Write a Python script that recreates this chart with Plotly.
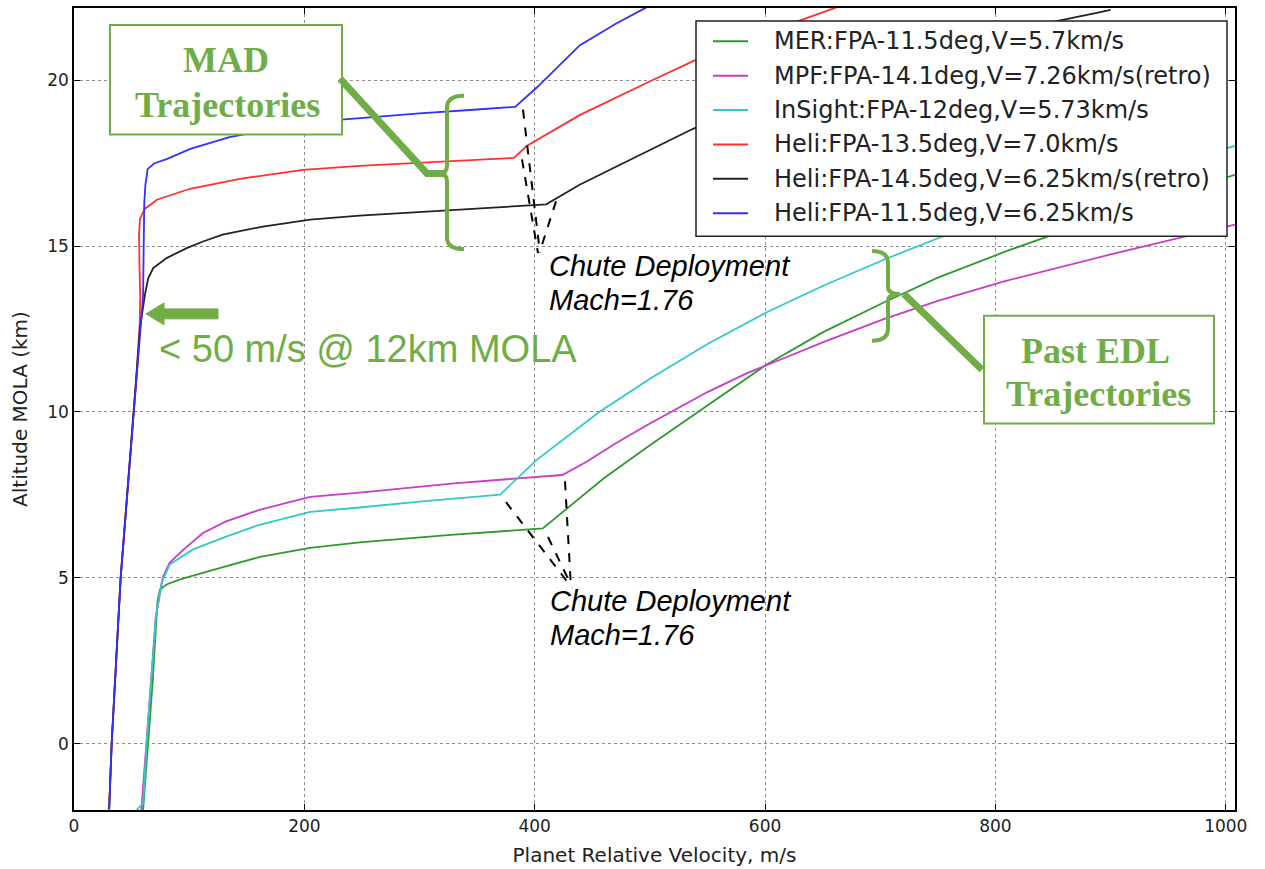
import plotly.graph_objects as go

# ---------------- data ----------------
mer_v = [60, 64.5, 68.3, 71.7, 72.5, 74.6, 80.4, 92, 103.5, 132.5, 161.4, 205, 248, 330, 407,
         430, 460, 500, 550, 600, 650, 703, 750, 809, 850, 900, 950, 1008]
mer_h = [-2, 0, 1.86, 3.85, 4.3, 4.65, 4.8, 4.95, 5.07, 5.35, 5.63, 5.9, 6.07, 6.3, 6.49,
         7.15, 8.0, 9.0, 10.2, 11.4, 12.4, 13.3, 14.05, 14.84, 15.35, 15.95, 16.55, 17.15]

mpf_v = [58.5, 63, 67, 71, 76, 77.5, 83, 95, 112, 132, 161, 205, 248, 330, 424,
         445, 470, 500, 550, 583, 650, 703, 750, 809, 900, 960, 1008]
mpf_h = [-2, 0, 1.85, 3.8, 4.8, 5.05, 5.45, 5.85, 6.35, 6.7, 7.05, 7.44, 7.57, 7.85, 8.1,
         8.5, 9.05, 9.65, 10.6, 11.15, 12.1, 12.8, 13.35, 13.95, 14.75, 15.25, 15.65]

ins_v = [54.4, 60.1, 63, 67, 71, 76, 83, 103, 132, 161, 205, 248, 300, 370,
         401.5, 456, 500, 550, 601, 650, 703, 754, 800, 850, 900, 950, 1008]
ins_h = [-2, -1.8, 0, 1.85, 3.8, 4.85, 5.4, 5.85, 6.24, 6.6, 6.99, 7.12, 7.3, 7.51,
         8.55, 10.0, 11.0, 12.05, 13.0, 13.8, 14.59, 15.29, 15.85, 16.45, 17.0, 17.5, 18.02]

h135_v = [30.5, 32.7, 40.5, 49.5, 54, 57, 57.5, 56.8, 56.5, 57.3, 61.6, 72, 100.7, 144, 198.7,
          248, 320, 382, 393, 439, 502, 539, 600, 630, 662]
h135_h = [-2, 0, 5, 8.85, 11.0, 12.6, 13.5, 14.5, 15.35, 15.83, 16.13, 16.4, 16.73, 17.03, 17.3,
          17.42, 17.55, 17.66, 18.02, 18.95, 20.0, 20.6, 21.4, 21.8, 22.2]

h145_v = [30.5, 32.7, 40.5, 49.5, 54, 57.3, 60.0, 61.6, 64.5, 68.8, 80.4, 97.8, 112, 129, 164, 205, 248,
          330, 410, 439, 497, 537, 600, 700, 800, 851, 889, 900]
h145_h = [-2, 0, 5, 8.85, 11.0, 12.54, 13.2, 13.54, 14.04, 14.34, 14.64, 14.94, 15.14, 15.35, 15.59, 15.8, 15.92,
          16.1, 16.26, 16.85, 17.84, 18.53, 19.45, 20.55, 21.35, 21.77, 22.04, 22.12]

h115_v = [30.5, 32.7, 40.5, 49.5, 54, 58, 60.0, 60.5, 61.0, 62.0, 64, 70, 81, 101, 135, 205,
          248, 300, 350, 383, 402, 439, 470, 497]
h115_h = [-2, 0, 5, 8.85, 11.0, 12.6, 13.5, 15.0, 16.3, 16.85, 17.33, 17.5, 17.63, 17.93, 18.29, 18.74,
          18.86, 19.0, 19.12, 19.2, 19.79, 21.05, 21.7, 22.2]

names = ["MER:FPA-11.5deg,V=5.7km/s",
         "MPF:FPA-14.1deg,V=7.26km/s(retro)",
         "InSight:FPA-12deg,V=5.73km/s",
         "Heli:FPA-13.5deg,V=7.0km/s",
         "Heli:FPA-14.5deg,V=6.25km/s(retro)",
         "Heli:FPA-11.5deg,V=6.25km/s"]
colors = ["#2e9a2e", "#c83cc8", "#33c8c8", "#ff3030", "#222222", "#3030ff"]
series = [(mer_v, mer_h), (mpf_v, mpf_h), (ins_v, ins_h),
          (h135_v, h135_h), (h145_v, h145_h), (h115_v, h115_h)]

x_ticks = [0, 200, 400, 600, 800, 1000]
y_ticks = [0, 5, 10, 15, 20]
X_RANGE = [0, 1008]
Y_RANGE = [-2, 22.18]

# ---------------- layout geometry ----------------
W, H = 1265, 869
ML, MR, MT, MB = 74, 30, 6, 58
PW, PH = W - ML - MR, H - MT - MB


def P(px, py):
    """page pixel position -> data coordinates (used for annotation placement only)"""
    x = X_RANGE[0] + (px - ML) / PW * (X_RANGE[1] - X_RANGE[0])
    y = Y_RANGE[1] - (py - MT) / PH * (Y_RANGE[1] - Y_RANGE[0])
    return x, y


def path(segments, close=False):
    s = ""
    for cmd, pts in segments:
        s += cmd + " ".join("%.4f,%.4f" % P(*p) for p in pts) + " "
    if close:
        s += "Z"
    return s


fig = go.Figure()
for (v, h), n, c in zip(series, names, colors):
    fig.add_trace(go.Scatter(x=v, y=h, mode="lines", name=n,
                             line=dict(color=c, width=1.8), showlegend=False))

GREEN = "#70AD47"
shapes = []
annots = []


def text(px, py, s, size, family, color, xanchor="left", yanchor="middle"):
    x, y = P(px, py)
    annots.append(dict(x=x, y=y, xref="x", yref="y", text=s, showarrow=False,
                       font=dict(family=family, size=size, color=color),
                       xanchor=xanchor, yanchor=yanchor))


# ---- legend (drawn by hand to match the reference spacing) ----
x0, y0 = P(696, 19)
x1, y1 = P(1227, 235)
shapes.append(dict(type="rect", x0=x0, y0=y0, x1=x1, y1=y1, xref="x", yref="y",
                   line=dict(color="#222", width=1.5), fillcolor="white"))
row_y = [39.5, 74, 108.5, 143, 177.5, 212]
for ry, n, c in zip(row_y, names, colors):
    shapes.append(dict(type="path", xref="x", yref="y",
                       path=path([("M", [(713, ry)]), ("L", [(748, ry)])]),
                       line=dict(color=c, width=2)))
    text(772, ry, n, 24, "DejaVu Sans", "#222")

# ---- MAD box ----
x0, y0 = P(110, 23)
x1, y1 = P(342, 133)
shapes.append(dict(type="rect", x0=x0, y0=y0, x1=x1, y1=y1, xref="x", yref="y",
                   line=dict(color=GREEN, width=2), fillcolor="white"))
text(226, 58, "<b>MAD</b>", 36, "Liberation Serif", GREEN, xanchor="center")
text(227, 103, "<b>Trajectories</b>", 36, "Liberation Serif", GREEN, xanchor="center")
# pointer + brace (upper)
shapes.append(dict(type="path", xref="x", yref="y",
                   path=path([("M", [(340, 77)]), ("L", [(427, 172)]), ("L", [(444, 172)])]),
                   line=dict(color=GREEN, width=7)))
shapes.append(dict(type="path", xref="x", yref="y",
                   path=path([("M", [(464, 94)]), ("Q", [(447, 94), (447, 106)]),
                              ("L", [(447, 164)]), ("Q", [(447, 172), (439, 172)]),
                              ("Q", [(447, 172), (447, 180)]), ("L", [(447, 236)]),
                              ("Q", [(447, 248), (464, 248)])]),
                   line=dict(color=GREEN, width=4)))

# ---- Past EDL box ----
x0, y0 = P(984, 315)
x1, y1 = P(1214, 423)
shapes.append(dict(type="rect", x0=x0, y0=y0, x1=x1, y1=y1, xref="x", yref="y",
                   line=dict(color=GREEN, width=2), fillcolor="white"))
text(1095, 350, "<b>Past EDL</b>", 36, "Liberation Serif", GREEN, xanchor="center")
text(1098, 393, "<b>Trajectories</b>", 36, "Liberation Serif", GREEN, xanchor="center")
shapes.append(dict(type="path", xref="x", yref="y",
                   path=path([("M", [(982, 369)]), ("L", [(904, 293)])]),
                   line=dict(color=GREEN, width=7)))
shapes.append(dict(type="path", xref="x", yref="y",
                   path=path([("M", [(872, 250)]), ("Q", [(888, 250), (888, 262)]),
                              ("L", [(888, 286)]), ("Q", [(888, 293), (900, 293)]),
                              ("Q", [(888, 293), (888, 300)]), ("L", [(888, 328)]),
                              ("Q", [(888, 340), (872, 340)])]),
                   line=dict(color=GREEN, width=4)))

# ---- "< 50 m/s" arrow ----
arrow_pts = [(164, 302), (164, 308), (218, 308), (218, 318), (164, 318), (164, 324)]
shapes.append(dict(type="path", xref="x", yref="y",
                   path=path([("M", [(146, 313)])] + [("L", [p]) for p in arrow_pts], close=True),
                   line=dict(color=GREEN, width=1), fillcolor=GREEN))
text(157, 348, "< 50 m/s @ 12km MOLA", 38, "Liberation Sans", GREEN)

# ---- Chute deployment labels ----
for (lx, ly) in [(547, 265), (548, 601)]:
    text(lx, ly, "<i>Chute Deployment</i>", 29, "Liberation Sans", "black")
    text(lx, ly + 34, "<i>Mach=1.76</i>", 29, "Liberation Sans", "black")

dash_lines = [((523, 108), (540, 252)), ((522, 158), (538, 252)), ((556, 200), (540, 250)),
              ((506, 502), (572, 588)), ((548, 537), (570, 583)), ((565, 481), (571, 588))]
for a, b in dash_lines:
    shapes.append(dict(type="path", xref="x", yref="y", path=path([("M", [a]), ("L", [b])]),
                       line=dict(color="black", width=2, dash="dash")))

axis_common = dict(showline=True, linecolor="black", linewidth=1.5, mirror="ticks",
                   ticks="inside", ticklen=6, tickcolor="black", tickwidth=1,
                   showgrid=True, gridcolor="#8c8c8c", griddash="dot", gridwidth=1,
                   zeroline=False,
                   tickfont=dict(family="DejaVu Sans", size=17, color="#222"))

fig.update_layout(
    width=W, height=H, margin=dict(l=ML, r=MR, t=MT, b=MB),
    paper_bgcolor="white", plot_bgcolor="white",
    xaxis=dict(range=X_RANGE, tickvals=x_ticks, **axis_common,
               title=dict(text="Planet Relative Velocity, m/s", standoff=13,
                          font=dict(family="DejaVu Sans", size=20, color="#222"))),
    yaxis=dict(range=Y_RANGE, tickvals=y_ticks, **axis_common,
               title=dict(text="Altitude MOLA (km)", standoff=14,
                          font=dict(family="DejaVu Sans", size=20, color="#222"))),
    shapes=shapes, annotations=annots,
    showlegend=False,
)

fig.write_html("out.html", config={"displayModeBar": False},
               post_script="document.body.style.margin='0px';")
